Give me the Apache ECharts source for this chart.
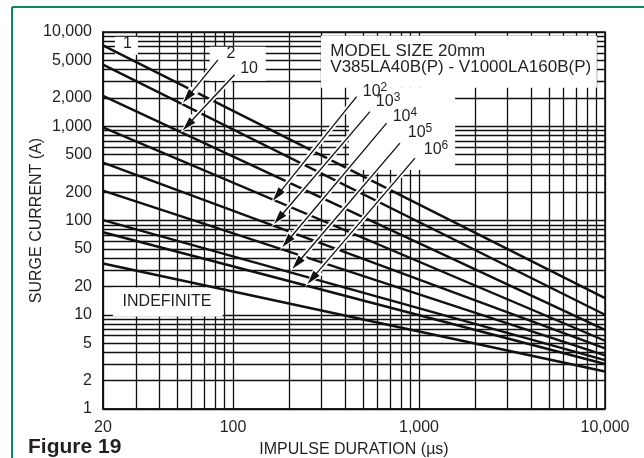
<!DOCTYPE html>
<html lang="en" style="height: 100%">
<head>
  <meta charset="utf-8">
</head>
<body style="height: 100%; margin: 0; background: #fff">
  <div id="container" style="width: 644px; height: 458px"></div>

  <script type="text/javascript" src="https://fastly.jsdelivr.net/npm/echarts@6/dist/echarts.min.js"></script>
  <script type="text/javascript">
    var FONT = '"Liberation Sans", Arial, sans-serif';
    var INK = '#231f20';
    var ARROW_HEAD = 'path://M0,0 L4,14 L-4,14 Z';

    // pulse duration (us) at the two ends of every rating line
    var durations = [20, 10000];
    var curveNames = ['1', '2', '10', '10^2', '10^3', '10^4', '10^5', '10^6', 'INDEFINITE'];
    var currentAt20us = [7200, 4500, 2100, 975, 410, 207, 101, 75, 35];
    var currentAt10ms = [15, 10, 6.9, 5.3, 4.4, 3.7, 3.3, 3.0, 2.5];

    var xLabelValues = [20, 100, 1000, 10000];
    var yLabelValues = [1, 2, 5, 10, 20, 50, 100, 200, 500, 1000, 2000, 5000, 10000];
    var gridSteps = [1, 2, 3, 4, 5, 6, 7, 8, 9];
    var decades = [1, 10, 100, 1000, 10000];

    // white label boxes that hide the grid, [corner, corner] in data units
    var labelBoxes = [
      [[23.2, 8890], [30.8, 5730]],
      [[75, 6970], [150, 3030]],
      [[297, 9120], [9040, 2560]],
      [[420, 2560], [1564, 344]],
      [[22.6, 19.5], [88, 9.6]]
    ];

    // pulse count labels
    var countLabels = ['1', '2', '10', '10{s|2}', '10{s|3}', '10{s|4}', '10{s|5}', '10{s|6}', 'INDEFINITE'];
    var countLabelAt = [
      [27.1, 7500], [97.6, 5870], [122, 4070],
      [580, 2318], [682, 1815], [840, 1259], [1012, 851], [1234, 562],
      [44.2, 13.7]
    ];

    // leader arrows, tail -> head
    var arrowFrom = [[83, 5070], [102, 3515], [462, 2066], [545, 1432], [670, 1079], [790, 662], [951, 459]];
    var arrowTo = [[57, 2040], [57, 1030], [173, 185], [176, 105], [195, 59.5], [221, 35], [266, 24.2]];

    var modelText = 'MODEL SIZE 20mm\nV385LA40B(P) - V1000LA160B(P)';
    var modelTextAt = [333.6, 5100];

    function gridValues(lo, hi) {
      var out = [];
      decades.forEach(function (d) {
        gridSteps.forEach(function (m) {
          var v = m * d;
          if (v >= lo && v <= hi && out.indexOf(v) < 0) out.push(v);
        });
      });
      return out;
    }

    function withCommas(v) {
      return Math.round(v).toLocaleString('en-US');
    }

    var dom = document.getElementById('container');
    var myChart = echarts.init(dom, null, { renderer: 'canvas' });

    var series = curveNames.map(function (name, i) {
      return {
        name: name,
        type: 'line',
        symbol: 'none',
        silent: true,
        z: 3,
        lineStyle: { color: '#111', width: 2.4 },
        data: [[durations[0], currentAt20us[i]], [durations[1], currentAt10ms[i]]]
      };
    });

    // boxes behind the curves, above the grid
    series.push({
      type: 'line',
      data: [],
      silent: true,
      markArea: {
        silent: true,
        z: 1,
        itemStyle: { color: '#fff', borderWidth: 0 },
        label: { show: false },
        data: labelBoxes.map(function (b) {
          return [{ coord: b[0] }, { coord: b[1] }];
        })
      }
    });

    var arrowPairs = arrowFrom.map(function (p, i) {
      return [{ coord: p }, { coord: arrowTo[i] }];
    });

    // white halo under the arrows
    series.push({
      type: 'line',
      data: [],
      silent: true,
      markLine: {
        silent: true,
        z: 5,
        animation: false,
        symbol: ['none', ARROW_HEAD],
        symbolSize: 21,
        symbolKeepAspect: true,
        label: { show: false },
        lineStyle: { color: '#fff', width: 5, type: 'solid', opacity: 1 },
        itemStyle: { color: '#fff' },
        data: arrowPairs
      }
    });

    series.push({
      type: 'line',
      data: [],
      silent: true,
      markLine: {
        silent: true,
        z: 6,
        animation: false,
        symbol: ['none', ARROW_HEAD],
        symbolSize: 14,
        symbolKeepAspect: true,
        label: { show: false },
        lineStyle: { color: '#111', width: 1.3, type: 'solid', opacity: 1 },
        itemStyle: { color: '#111' },
        data: arrowPairs
      }
    });

    var textPoints = countLabels.map(function (t, i) {
      return {
        coord: countLabelAt[i],
        label: { formatter: t }
      };
    });
    textPoints.push({
      coord: modelTextAt,
      label: { formatter: modelText, align: 'left', fontSize: 17, lineHeight: 16 }
    });

    series.push({
      type: 'line',
      data: [],
      silent: true,
      markPoint: {
        silent: true,
        z: 7,
        animation: false,
        symbol: 'circle',
        symbolSize: 0,
        itemStyle: { color: 'transparent' },
        label: {
          show: true,
          position: 'inside',
          color: INK,
          fontFamily: FONT,
          fontSize: 16,
          lineHeight: 20,
          rich: {
            s: { fontFamily: FONT, fontSize: 12, lineHeight: 12, verticalAlign: 'top', color: INK }
          }
        },
        data: textPoints
      }
    });

    var option = {
      backgroundColor: '#fff',
      animation: false,
      textStyle: { fontFamily: FONT },
      grid: {
        left: 103,
        right: 39,
        top: 32,
        bottom: 49,
        outerBoundsMode: 'none',
        containLabel: false,
        show: true,
        borderColor: '#111',
        borderWidth: 1.5,
        backgroundColor: '#fff'
      },
      xAxis: {
        type: 'log',
        logBase: 10,
        min: 20,
        max: 10000,
        name: 'IMPULSE DURATION (\u00b5s)',
        nameLocation: 'middle',
        nameGap: 33,
        nameMoveOverlap: false,
        nameTextStyle: { fontFamily: FONT, fontSize: 16, color: INK },
        axisLine: { show: true, lineStyle: { color: '#111', width: 1.5 } },
        axisTick: { show: false, customValues: gridValues(20, 10000) },
        axisLabel: {
          customValues: xLabelValues,
          formatter: withCommas,
          fontFamily: FONT,
          fontSize: 16,
          color: INK,
          margin: 11
        },
        splitLine: { show: true, lineStyle: { color: '#111', width: 1.3 } },
        minorSplitLine: { show: false }
      },
      yAxis: {
        type: 'log',
        logBase: 10,
        min: 1,
        max: 10000,
        name: 'SURGE CURRENT (A)',
        nameLocation: 'middle',
        nameRotate: 90,
        nameGap: 58,
        nameMoveOverlap: false,
        nameTextStyle: { fontFamily: FONT, fontSize: 16, color: INK },
        axisLine: { show: true, lineStyle: { color: '#111', width: 1.5 } },
        axisTick: { show: false, customValues: gridValues(1, 10000) },
        axisLabel: {
          customValues: yLabelValues,
          formatter: withCommas,
          fontFamily: FONT,
          fontSize: 16,
          color: INK,
          margin: 11
        },
        splitLine: { show: true, lineStyle: { color: '#111', width: 1.3 } }
      },
      graphic: [
        {
          type: 'line',
          silent: true,
          shape: { x1: 12, y1: 7, x2: 12, y2: 458 },
          style: { stroke: '#0b8a5e', lineWidth: 2 }
        },
        {
          type: 'line',
          silent: true,
          shape: { x1: 12, y1: 7, x2: 644, y2: 7 },
          style: { stroke: '#0b8a5e', lineWidth: 2 }
        },
        {
          type: 'text',
          left: 28,
          top: 437,
          silent: true,
          style: {
            text: 'Figure 19',
            fontFamily: FONT,
            fontSize: 21,
            fontWeight: 'bold',
            fill: INK
          }
        }
      ],
      series: series
    };

    myChart.setOption(option);

    window.addEventListener('resize', myChart.resize);
  </script>
</body>
</html>
